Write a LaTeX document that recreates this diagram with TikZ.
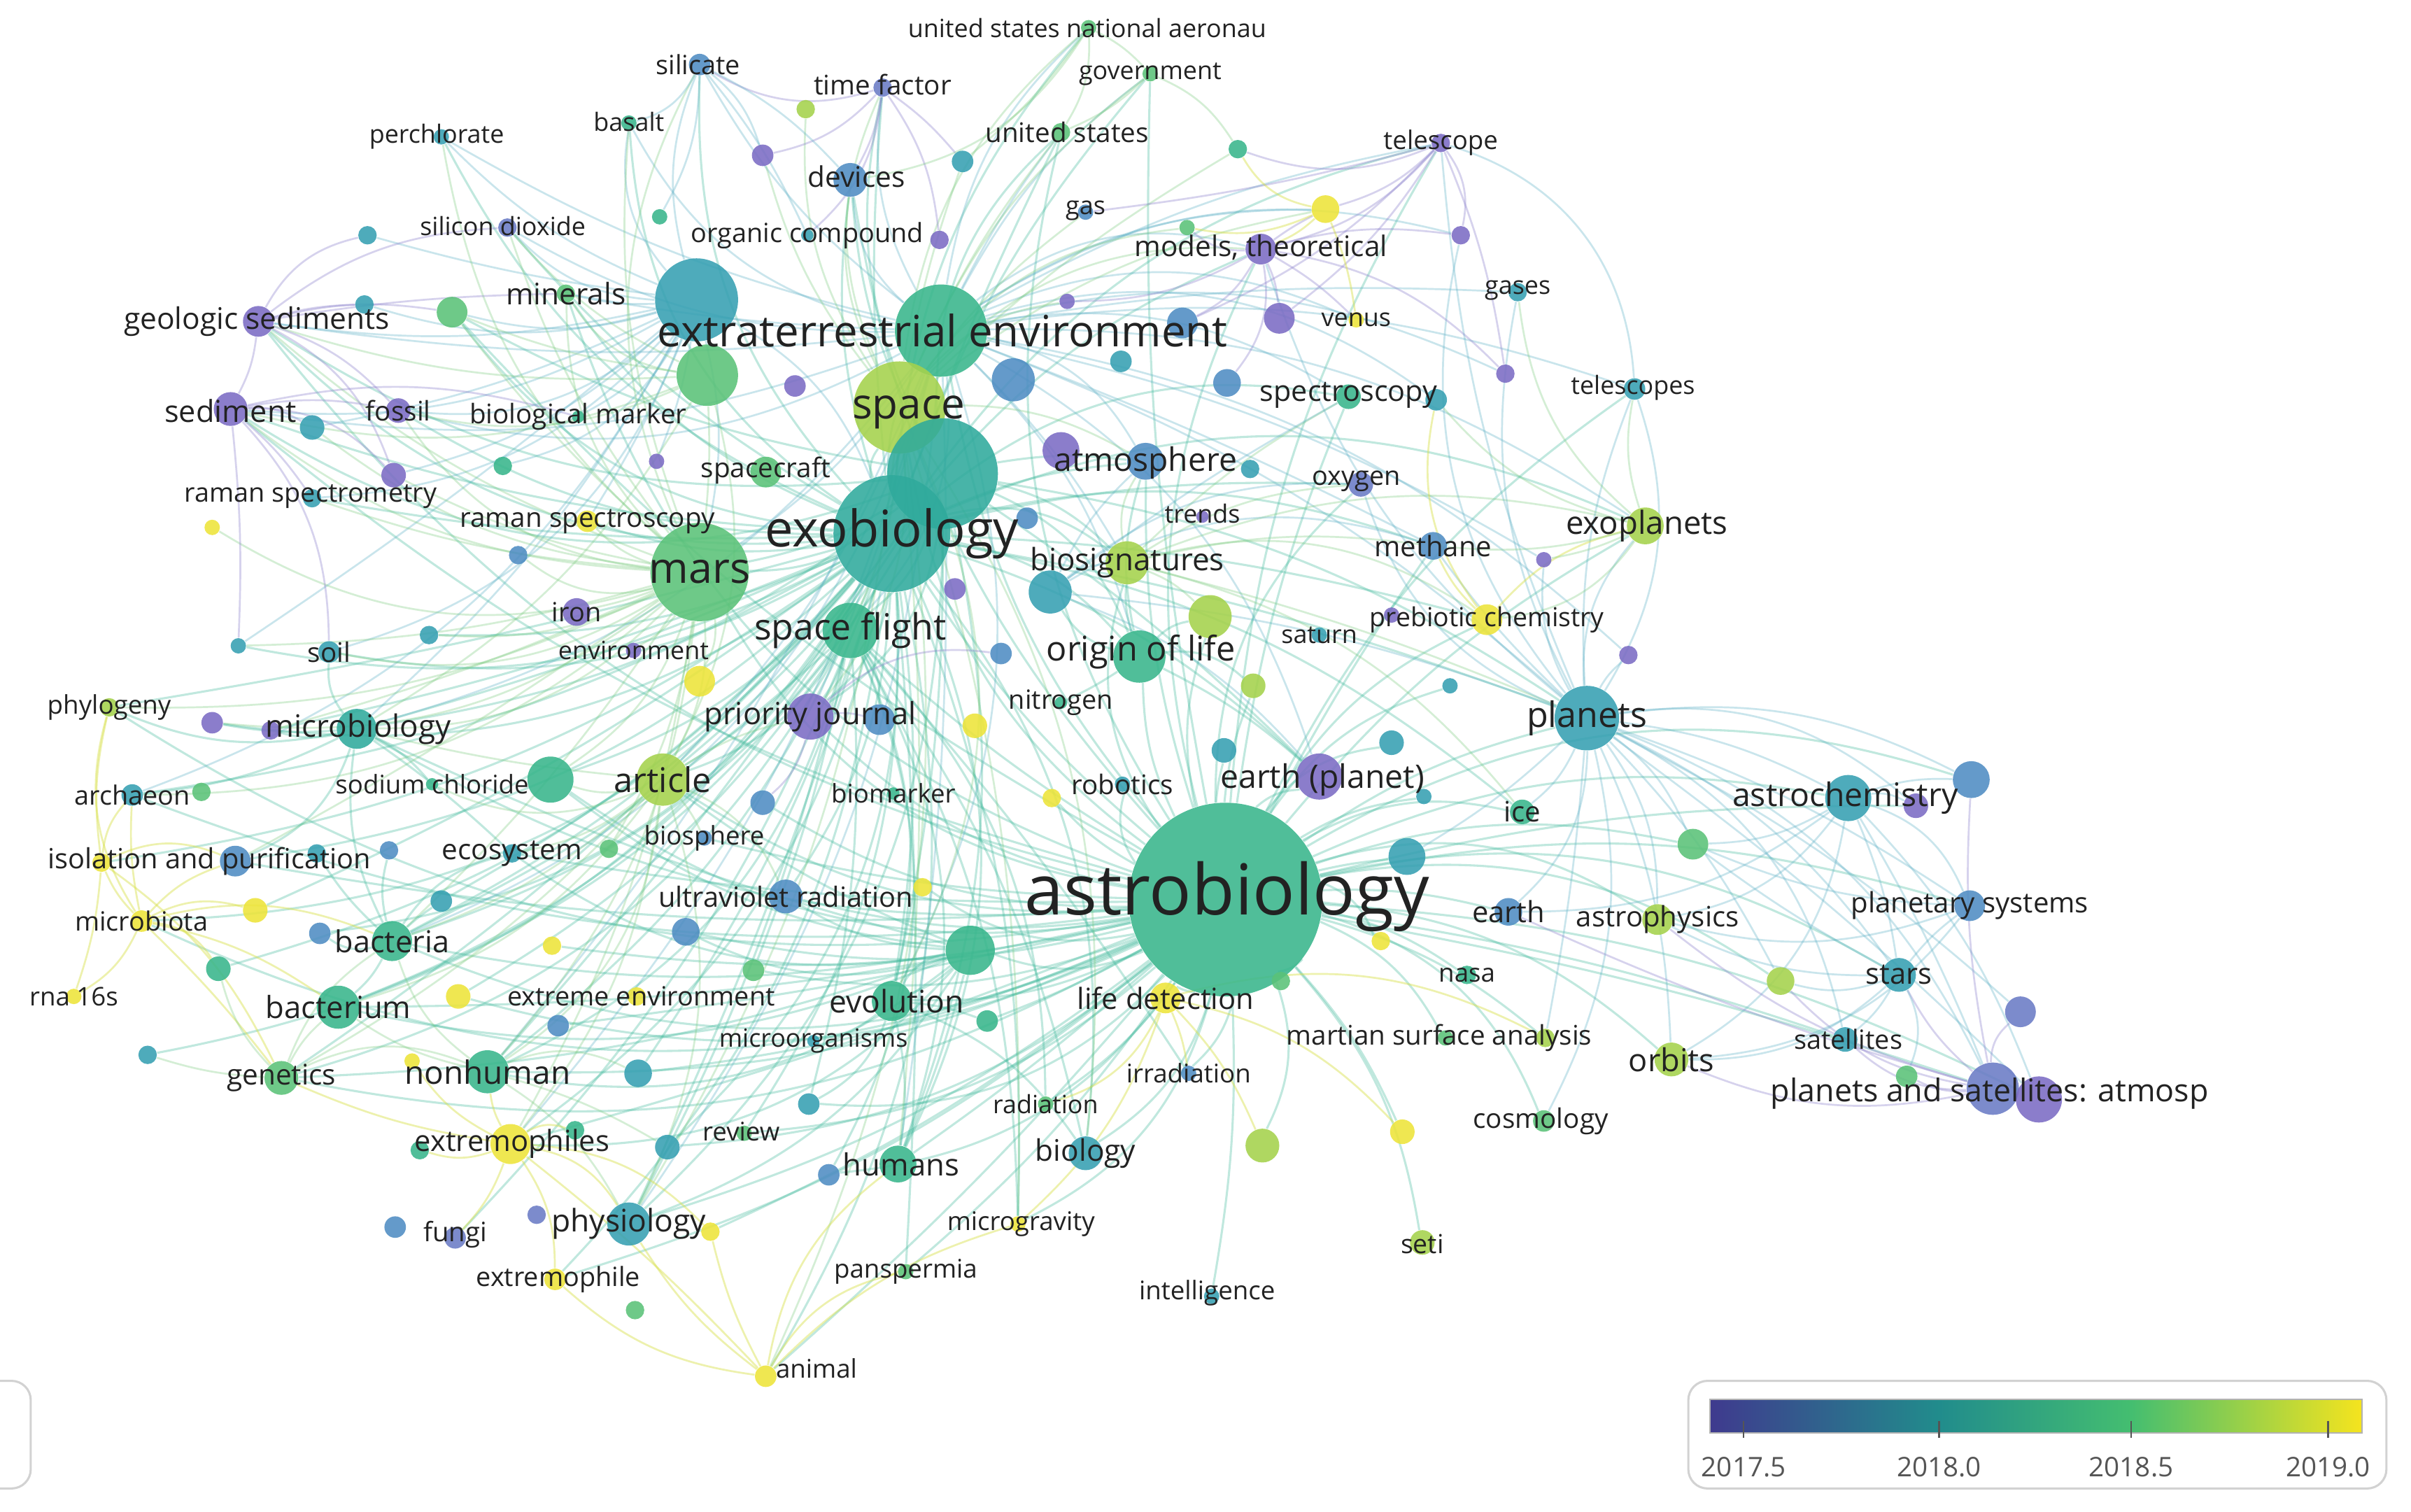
\documentclass[tikz,border=0pt]{standalone}
\usepackage{fontspec}
\setmainfont{Open Sans}
\pgfdeclarelayer{bg}
\pgfsetlayers{bg,main}
\definecolor{cP}{HTML}{7B6CC4}
\definecolor{cV}{HTML}{6A7BC6}
\definecolor{cB}{HTML}{4F8DC3}
\definecolor{cT}{HTML}{36A0B2}
\definecolor{cQ}{HTML}{2FAA9C}
\definecolor{cG}{HTML}{38B68C}
\definecolor{cN}{HTML}{5BC278}
\definecolor{cL}{HTML}{A5D24C}
\definecolor{cY}{HTML}{EDE43A}
\definecolor{eG}{HTML}{3DB89A}
\definecolor{eT}{HTML}{5AAFC4}
\definecolor{eN}{HTML}{7ACB7E}
\definecolor{eY}{HTML}{D8E04A}
\definecolor{eP}{HTML}{8A80CC}
\definecolor{txt}{HTML}{222222}
\definecolor{lg}{HTML}{555555}
\tikzset{
  bub/.style={circle, inner sep=0pt, draw=none, fill opacity=0.88},
  lab/.style={inner sep=0pt, text=txt},
  eg/.style={draw=eG, draw opacity=0.32, line width=0.8pt},
  et/.style={draw=eT, draw opacity=0.32, line width=0.7pt},
  en/.style={draw=eN, draw opacity=0.32, line width=0.7pt},
  ey/.style={draw=eY, draw opacity=0.45, line width=0.7pt},
  ep/.style={draw=eP, draw opacity=0.35, line width=0.7pt},
  legbox/.style={draw=gray!35, line width=0.8pt, rounded corners=0.25cm},
  tick/.style={draw=lg, line width=0.6pt},
  legtxt/.style={inner sep=0pt, text=lg, font=\fontsize{10}{10}\selectfont}
}
\newcommand\kwb[5]{\node[bub, fill=#5, minimum size=#4*0.04cm] (#1) at (#2,#3) {};}
\newcommand\kwl[5]{\node[lab, font=\fontsize{#4}{#4}\selectfont] (#1) at (#2,#3) {#5};}
\newcommand\kwh[3]{\foreach \tg [count=\ii] in {#3} {\pgfmathsetmacro\bb{mod(\ii*7,24)+3}\draw[#2] (#1) to[bend left=\bb] (\tg);}}
\begin{document}
\begin{tikzpicture}[x=0.02cm, y=-0.02cm]
\useasboundingbox (0,0) rectangle (1568,983);
% ---------------- bubbles ----------------
\kwb{usna}{708}{18}{5}{cN}
\kwb{gov}{748}{48}{5}{cN}
\kwb{sil}{455}{42}{7}{cB}
\kwb{tf}{574}{57}{6}{cV}
\kwb{bas}{409}{80}{5}{cG}
\kwb{per}{287}{89}{5}{cT}
\kwb{u1}{524}{71}{6}{cL}
\kwb{us}{690}{86}{6}{cN}
\kwb{tel}{937}{93}{6}{cP}
\kwb{u2}{496}{101}{7}{cP}
\kwb{u3}{626}{105}{7}{cT}
\kwb{u4}{805}{97}{6}{cG}
\kwb{dev}{553}{117}{11}{cB}
\kwb{u5}{429}{141}{5}{cG}
\kwb{sio}{330}{148}{6}{cV}
\kwb{u6}{239}{153}{6}{cT}
\kwb{oc}{525}{153}{4}{cT}
\kwb{u7}{611}{156}{6}{cP}
\kwb{gas}{706}{138}{5}{cB}
\kwb{u8}{862}{136}{9}{cY}
\kwb{u9}{772}{148}{5}{cN}
\kwb{mt}{820}{162}{10}{cP}
\kwb{u10}{950}{153}{6}{cP}
\kwb{u11}{694}{196}{5}{cP}
\kwb{u12}{294}{203}{10}{cN}
\kwb{min}{368}{191}{6}{cN}
\kwb{geo}{168}{209}{10}{cP}
\kwb{u13}{237}{198}{6}{cT}
\kwb{bt}{453}{195}{27}{cT}
\kwb{ee}{612}{215}{30}{cG}
\kwb{u14}{460}{244}{20}{cN}
\kwb{u15}{517}{251}{7}{cP}
\kwb{u16}{659}{247}{14}{cB}
\kwb{u17}{769}{210}{10}{cB}
\kwb{u18}{832}{207}{10}{cP}
\kwb{ven}{882}{208}{5}{cY}
\kwb{gases}{987}{190}{6}{cT}
\kwb{u19}{979}{243}{6}{cP}
\kwb{tels}{1063}{253}{7}{cT}
\kwb{u20}{729}{235}{7}{cT}
\kwb{u21}{798}{249}{9}{cB}
\kwb{spec}{877}{258}{8}{cG}
\kwb{u22}{934}{260}{7}{cT}
\kwb{space}{585}{265}{30}{cL}
\kwb{u23}{613}{308}{36}{cQ}
\kwb{sed}{150}{266}{11}{cP}
\kwb{fos}{259}{267}{8}{cP}
\kwb{u24}{203}{278}{8}{cT}
\kwb{bm}{376}{271}{4}{cG}
\kwb{u25}{256}{309}{8}{cP}
\kwb{u26}{327}{303}{6}{cG}
\kwb{u27}{427}{300}{5}{cP}
\kwb{scraft}{498}{307}{10}{cN}
\kwb{u28}{690}{293}{12}{cP}
\kwb{atm}{745}{300}{12}{cB}
\kwb{u29}{813}{305}{6}{cT}
\kwb{oxy}{885}{315}{8}{cV}
\kwb{rsm}{203}{324}{6}{cT}
\kwb{u30}{138}{343}{5}{cY}
\kwb{rsc}{382}{339}{7}{cY}
\kwb{u31}{337}{361}{6}{cB}
\kwb{tr}{782}{336}{4}{cP}
\kwb{exo}{580}{347}{38}{cQ}
\kwb{u32}{668}{337}{7}{cB}
\kwb{meth}{932}{355}{9}{cB}
\kwb{exop}{1070}{342}{12}{cL}
\kwb{u33}{1004}{364}{5}{cP}
\kwb{mars}{455}{372}{32}{cN}
\kwb{bios}{733}{366}{14}{cL}
\kwb{u34}{683}{385}{14}{cT}
\kwb{u35}{621}{383}{7}{cP}
\kwb{iron}{375}{398}{9}{cP}
\kwb{env}{412}{423}{5}{cP}
\kwb{sf}{553}{410}{18}{cG}
\kwb{u36}{787}{401}{14}{cL}
\kwb{sat}{858}{413}{5}{cT}
\kwb{u37}{905}{400}{5}{cP}
\kwb{pc}{967}{403}{10}{cY}
\kwb{u38}{1059}{426}{6}{cP}
\kwb{soil}{214}{424}{7}{cT}
\kwb{u39}{155}{420}{5}{cT}
\kwb{u40}{279}{413}{6}{cT}
\kwb{ool}{741}{427}{17}{cG}
\kwb{u41}{651}{425}{7}{cB}
\kwb{u42}{815}{446}{8}{cL}
\kwb{u43}{943}{446}{5}{cT}
\kwb{u44}{455}{443}{10}{cY}
\kwb{phy}{71}{460}{6}{cL}
\kwb{u45}{138}{470}{7}{cP}
\kwb{u46}{176}{475}{6}{cP}
\kwb{mb}{232}{474}{13}{cQ}
\kwb{pj}{527}{466}{15}{cP}
\kwb{u47}{572}{468}{10}{cB}
\kwb{u48}{634}{472}{8}{cY}
\kwb{nit}{690}{457}{4}{cG}
\kwb{pl}{1032}{467}{21}{cT}
\kwb{u49}{905}{483}{8}{cT}
\kwb{u50}{796}{488}{8}{cT}
\kwb{eap}{858}{505}{15}{cP}
\kwb{arc}{86}{517}{7}{cT}
\kwb{u51}{131}{515}{6}{cN}
\kwb{nacl}{281}{510}{4}{cG}
\kwb{u52}{358}{507}{15}{cG}
\kwb{art}{431}{507}{17}{cL}
\kwb{u53}{496}{522}{8}{cB}
\kwb{biom}{581}{516}{4}{cG}
\kwb{u54}{684}{519}{6}{cY}
\kwb{rob}{730}{510}{5}{cT}
\kwb{ice}{990}{528}{8}{cG}
\kwb{u55}{926}{518}{5}{cT}
\kwb{ach}{1202}{519}{15}{cT}
\kwb{u56}{1246}{524}{8}{cP}
\kwb{u57}{1282}{507}{12}{cB}
\kwb{u58}{1101}{549}{10}{cN}
\kwb{iap}{153}{560}{10}{cB}
\kwb{u59}{66}{561}{6}{cY}
\kwb{u60}{206}{555}{6}{cT}
\kwb{u61}{253}{553}{6}{cB}
\kwb{eco}{333}{555}{6}{cT}
\kwb{u62}{396}{552}{6}{cN}
\kwb{bsp}{458}{545}{5}{cB}
\kwb{ab}{797}{585}{63}{cG}
\kwb{u63}{915}{557}{12}{cT}
\kwb{earth}{981}{593}{9}{cB}
\kwb{aph}{1078}{598}{10}{cL}
\kwb{ps}{1281}{589}{10}{cB}
\kwb{u64}{600}{577}{6}{cY}
\kwb{uv}{511}{583}{11}{cB}
\kwb{u65}{446}{606}{9}{cB}
\kwb{mbt}{92}{599}{7}{cY}
\kwb{u66}{166}{592}{8}{cY}
\kwb{u67}{287}{586}{7}{cT}
\kwb{bac}{255}{612}{13}{cG}
\kwb{u68}{208}{607}{7}{cB}
\kwb{u69}{359}{615}{6}{cY}
\kwb{u70}{490}{631}{7}{cN}
\kwb{u71}{631}{618}{16}{cG}
\kwb{u72}{898}{612}{6}{cY}
\kwb{nasa}{954}{634}{6}{cG}
\kwb{u73}{1158}{638}{9}{cL}
\kwb{stars}{1235}{634}{11}{cT}
\kwb{u74}{1314}{658}{10}{cV}
\kwb{rna}{48}{648}{5}{cY}
\kwb{u75}{142}{630}{8}{cG}
\kwb{bact}{220}{655}{14}{cG}
\kwb{u76}{298}{648}{8}{cY}
\kwb{xenv}{414}{648}{6}{cY}
\kwb{u77}{363}{667}{7}{cB}
\kwb{evo}{580}{651}{13}{cG}
\kwb{u78}{642}{664}{7}{cG}
\kwb{ld}{758}{649}{10}{cY}
\kwb{u79}{833}{638}{6}{cN}
\kwb{mo}{529}{677}{4}{cT}
\kwb{msa}{1005}{675}{6}{cL}
\kwb{u80}{940}{675}{5}{cN}
\kwb{orb}{1087}{689}{11}{cL}
\kwb{sats}{1200}{676}{8}{cT}
\kwb{psa}{1296}{708}{17}{cV}
\kwb{u81}{1326}{715}{15}{cP}
\kwb{u82}{1240}{700}{7}{cN}
\kwb{u83}{96}{686}{6}{cT}
\kwb{gen}{183}{701}{11}{cN}
\kwb{u84}{268}{690}{5}{cY}
\kwb{nh}{317}{697}{14}{cG}
\kwb{u85}{415}{698}{9}{cT}
\kwb{irr}{773}{698}{5}{cB}
\kwb{rad}{680}{718}{5}{cN}
\kwb{u86}{526}{718}{7}{cT}
\kwb{rev}{484}{737}{5}{cN}
\kwb{u87}{434}{746}{8}{cT}
\kwb{u88}{821}{745}{11}{cL}
\kwb{u89}{912}{736}{8}{cY}
\kwb{cosm}{1004}{729}{7}{cN}
\kwb{xph}{332}{744}{13}{cY}
\kwb{u90}{273}{748}{6}{cG}
\kwb{u91}{374}{735}{6}{cG}
\kwb{bio}{706}{750}{11}{cT}
\kwb{hum}{584}{757}{12}{cG}
\kwb{u92}{539}{764}{7}{cB}
\kwb{phys}{409}{796}{14}{cT}
\kwb{u93}{462}{801}{6}{cY}
\kwb{u94}{349}{790}{6}{cV}
\kwb{fun}{296}{805}{7}{cV}
\kwb{u95}{257}{798}{7}{cB}
\kwb{mg}{662}{796}{5}{cY}
\kwb{seti}{925}{808}{8}{cL}
\kwb{pan}{589}{827}{5}{cN}
\kwb{xph1}{361}{832}{7}{cY}
\kwb{u96}{413}{852}{6}{cN}
\kwb{intel}{788}{843}{5}{cT}
\kwb{ani}{498}{895}{7}{cY}
% ---------------- edges ----------------
\begin{pgfonlayer}{bg}
\fill[white] (0,0) rectangle (1568,983);
\kwh{ab}{eg}{pl,ach,u57,u56,ps,stars,psa,u81,orb,aph,earth,u58,u73,sats,msa,u80,cosm,u89,seti,u88,intel,ld,bio,hum,rad,irr,mg,pan,evo,u71,u78,uv,art,mars,exo,ee,space,sf,ool,eap,bios,atm,pj,bac,bact,nh,gen,xph,phys,mb,mbt,iap,arc,phy,ani,xph1,rev,u86,u85,u70,u52,eco,sed,geo,min,u12,dev,us,gov,tel,mt,meth,exop,pc,oxy,spec,tels,ice,u63,nasa,u79,u72,u42,u36,u49,u50,u55,u43,rob,u54,u53,u64,bsp,u65,u76,u77,u69,u87,u92,u93}
\kwh{exo}{eg}{mars,ee,space,sf,art,pj,mb,bac,bact,geo,sed,fos,sil,tf,dev,per,bas,sio,min,u12,rsm,rsc,soil,phy,arc,iap,mbt,gen,nh,xph,phys,fun,xph1,hum,evo,uv,bio,pl,eap,ool,bios,atm,meth,exop,pc,mt,tel,us,gov,usna,spec,oxy,ice,ani,pan,mg,rev,u87,u85,u52,u45,u46,u40,u39,u68,u67,u75,u83,u66,u59}
\kwh{ee}{et}{mars,space,sf,geo,sed,fos,min,sil,tf,bas,per,sio,dev,us,gov,usna,mt,tel,u8,u10,gases,tels,spec,meth,pl,exop,atm,bios,ool,eap,pj,art,mb,bac,nh,phys,evo,hum,xph,u19,u22,u33,u38,ven}
\kwh{bt}{et}{geo,sed,fos,u24,u25,sio,u6,per,sil,bas,min,u12,rsm,rsc,mars,exo,soil,mb,u13,u26,u27,bm,arc,u39}
\kwh{u23}{eg}{mars,sf,pj,art,mb,bac,nh,dev,tf,us,atm,bios,ool,eap,pl,geo,sed,u12,hum,phys,evo}
\kwh{mars}{en}{geo,sed,fos,rsm,rsc,soil,iron,env,u44,u31,u25,u24,min,u12,bas,per,sil,sio,art,mb,bac,phy,arc,iap,xph,nh,u30,u39,u40,u45,u46,u62,u52}
\kwh{space}{en}{sf,dev,tf,us,gov,usna,u3,u2,u1,mt,gas,atm,pj,hum,phys,bio,evo,mg,ani,u9,u4,u8,u11}
\kwh{sf}{eg}{pj,u47,hum,phys,mg,rad,irr,bio,evo,nh,bac,bact,gen,u70,u76,art,u92,u86}
\kwh{u71}{eg}{bac,bact,nh,art,uv,u65,hum,evo,phys,xph,gen,u52,eco,mb}
\kwh{u14}{en}{geo,sed,min,u12,mb,art,mars,sio,fos}
\kwh{art}{en}{pj,u52,nacl,bsp,eco,uv,mb,bac,bact,nh,gen,xph,phys}
\kwh{bios}{en}{meth,exop,pc,spec,oxy,atm,pl,u36,ice}
\kwh{u34}{et}{atm,bios,meth,pl,eap,oxy,spec}
\kwh{pl}{et}{ach,u57,u56,ps,stars,psa,u81,orb,aph,sats,u73,u58,exop,meth,tels,gases,u10,tel,mt,earth,u63,ice,cosm,msa,u38,u33,oxy,u74}
\kwh{ach}{et}{u57,u56,ps,stars,u58,aph,psa,u81,earth,orb}
\kwh{psa}{ep}{stars,orb,u74,u57,u82,sats,earth,aph,u73}
\kwh{stars}{et}{sats,u73,u82,ps,aph,orb,u58}
\kwh{ps}{et}{u58,aph,orb}
\kwh{geo}{ep}{sed,sio,u6,u13,fos,u25,min,u12}
\kwh{sed}{ep}{fos,u24,u25,rsm,bm,soil,u39}
\kwh{tel}{ep}{u18,mt,u10,u19,u8,u4,gas,u17}
\kwh{mt}{ep}{u18,u17,u21,ven,u11,u9,u8,u10,u19}
\kwh{tf}{ep}{dev,u2,sil,u3,u7,oc}
\kwh{sil}{et}{dev,u2,bas,oc,u5}
\kwh{mbt}{ey}{u59,rna,phy,arc,iap,u66,gen,bact,bac,u75}
\kwh{u59}{ey}{phy,arc,iap,rna,gen}
\kwh{xph}{ey}{nh,xph1,phys,gen,u84,u93,ani,fun,u90,u91}
\kwh{ani}{ey}{phys,xph1,pan,u93,mg,hum}
\kwh{ld}{ey}{u88,u89,rad,irr,mg,msa}
\kwh{u8}{ey}{mt,u9,u4,ven}
\kwh{pc}{ey}{meth,exop,u22}
\kwh{gen}{en}{bact,bac,nh,u83,u75}
\kwh{nh}{en}{bact,bac,u85,u87,phys}
\kwh{bac}{eg}{bact,mb,u68,u60,u61,eco,u67}
\kwh{mb}{eg}{arc,phy,iap,u45,u46,soil,eco,nacl}
\kwh{pj}{ep}{u47,u53,u41}
\kwh{evo}{eg}{hum,bio,u71,u78,mo,u86}
\kwh{ool}{eg}{bios,u36,u42,eap,atm,u34,nit}
\kwh{exop}{en}{meth,u22,pc,u33,tels,gases}
\kwh{usna}{en}{gov,us,dev,u3}
\kwh{gov}{en}{us,u4}
\draw[et] (tel) to[bend left=35] (tels);
\draw[et] (tels) to[bend left=25] (pl);
\end{pgfonlayer}
% ---------------- labels ----------------
\kwl{Lusna}{707}{18}{9.3}{united states national aeronau}
\kwl{Lgov}{748}{48}{9.3}{government}
\kwl{Lsil}{454}{42}{9.8}{silicate}
\kwl{Ltf}{574}{55}{10}{time factor}
\kwl{Lbas}{409}{79}{9.3}{basalt}
\kwl{Lper}{284}{89}{9.3}{perchlorate}
\kwl{Lus}{694}{86}{10}{united states}
\kwl{Ltel}{937}{93}{9.5}{telescope}
\kwl{Ldev}{557}{115}{10.5}{devices}
\kwl{Lsio}{327}{147}{9.3}{silicon dioxide}
\kwl{Loc}{525}{153}{9.8}{organic compound}
\kwl{Lgas}{706}{137}{9.3}{gas}
\kwl{Lmt}{820}{161}{10.5}{models, theoretical}
\kwl{Lmin}{368}{191}{11}{minerals}
\kwl{Lgases}{987}{189}{9.3}{gases}
\kwl{Lgeo}{167}{209}{11}{geologic sediments}
\kwl{Lee}{613}{215}{16}{extraterrestrial environment}
\kwl{Lven}{882}{208}{9.3}{venus}
\kwl{Ltels}{1062}{252}{9.3}{telescopes}
\kwl{Lspec}{877}{257}{10.7}{spectroscopy}
\kwl{Lspace}{591}{268}{15.6}{space}
\kwl{Lsed}{150}{267}{11.2}{sediment}
\kwl{Lfos}{259}{267}{10}{fossil}
\kwl{Lbm}{376}{271}{10}{biological marker}
\kwl{Lscraft}{498}{306}{10}{spacecraft}
\kwl{Latm}{745}{301}{12}{atmosphere}
\kwl{Loxy}{882}{313}{9.8}{oxygen}
\kwl{Lrsm}{202}{323}{9.8}{raman spectrometry}
\kwl{Lrsc}{382}{339}{10}{raman spectroscopy}
\kwl{Ltr}{782}{334}{9.3}{trends}
\kwl{Lexo}{580}{347}{18.7}{exobiology}
\kwl{Lmeth}{932}{355}{10.4}{methane}
\kwl{Lexop}{1071}{342}{11.8}{exoplanets}
\kwl{Lmars}{455}{372}{15.8}{mars}
\kwl{Lbios}{733}{366}{11.4}{biosignatures}
\kwl{Liron}{375}{398}{9.8}{iron}
\kwl{Lenv}{412}{423}{9.3}{environment}
\kwl{Lsf}{553}{410}{13.4}{space flight}
\kwl{Lsat}{858}{413}{9.3}{saturn}
\kwl{Lpc}{967}{403}{9.7}{prebiotic chemistry}
\kwl{Lsoil}{214}{424}{10}{soil}
\kwl{Lool}{742}{424}{12.6}{origin of life}
\kwl{Lphy}{71}{460}{9.5}{phylogeny}
\kwl{Lmb}{233}{474}{11.4}{microbiology}
\kwl{Lpj}{527}{466}{11.3}{priority journal}
\kwl{Lnit}{690}{457}{9.8}{nitrogen}
\kwl{Lpl}{1032}{467}{13}{planets}
\kwl{Leap}{860}{507}{12}{earth (planet)}
\kwl{Larc}{86}{517}{9.8}{archaeon}
\kwl{Lnacl}{281}{510}{9.5}{sodium chloride}
\kwl{Lart}{431}{507}{12.6}{article}
\kwl{Lbiom}{581}{516}{9.5}{biomarker}
\kwl{Lrob}{730}{510}{10}{robotics}
\kwl{Lice}{990}{528}{10.4}{ice}
\kwl{Lach}{1200}{519}{12}{astrochemistry}
\kwl{Liap}{136}{560}{10.3}{isolation and purification}
\kwl{Leco}{333}{555}{10.5}{ecosystem}
\kwl{Lbsp}{458}{545}{9.5}{biosphere}
\kwl{Lab}{798}{583}{26}{astrobiology}
\kwl{Learth}{981}{593}{10.8}{earth}
\kwl{Laph}{1078}{598}{10.4}{astrophysics}
\kwl{Lps}{1281}{589}{10.4}{planetary systems}
\kwl{Luv}{511}{583}{10.3}{ultraviolet radiation}
\kwl{Lmbt}{92}{599}{9.8}{microbiota}
\kwl{Lbac}{255}{612}{11.2}{bacteria}
\kwl{Lnasa}{954}{634}{9.5}{nasa}
\kwl{Lstars}{1235}{634}{10.8}{stars}
\kwl{Lrna}{48}{648}{9.5}{rna 16s}
\kwl{Lbact}{220}{655}{11.3}{bacterium}
\kwl{Lxenv}{417}{648}{9.8}{extreme environment}
\kwl{Levo}{583}{651}{11.5}{evolution}
\kwl{Lld}{758}{649}{10.8}{life detection}
\kwl{Lmo}{529}{677}{9.3}{microorganisms}
\kwl{Lmsa}{936}{675}{10}{martian surface analysis}
\kwl{Lorb}{1087}{689}{11.7}{orbits}
\kwl{Lsats}{1202}{676}{9.8}{satellites}
\kwl{Lpsa}{1294}{711}{11.6}{planets and satellites: atmosp}
\kwl{Lgen}{183}{701}{10.5}{genetics}
\kwl{Lnh}{317}{697}{11.9}{nonhuman}
\kwl{Lirr}{773}{698}{9.5}{irradiation}
\kwl{Lrad}{680}{718}{9.3}{radiation}
\kwl{Lrev}{482}{736}{9.5}{review}
\kwl{Lcosm}{1002}{729}{10}{cosmology}
\kwl{Lxph}{333}{744}{10.8}{extremophiles}
\kwl{Lbio}{706}{750}{11}{biology}
\kwl{Lhum}{586}{757}{11.3}{humans}
\kwl{Lphys}{409}{796}{11.5}{physiology}
\kwl{Lfun}{296}{803}{9.9}{fungi}
\kwl{Lmg}{664}{796}{9.5}{microgravity}
\kwl{Lseti}{925}{809}{9.7}{seti}
\kwl{Lpan}{589}{827}{9.5}{panspermia}
\kwl{Lxph1}{363}{832}{9.8}{extremophile}
\kwl{Lintel}{785}{841}{9.5}{intelligence}
\kwl{Lani}{531}{890}{9.5}{animal}
% ---------------- legend ----------------
\draw[legbox] (-60,898) rectangle (20,968);
\draw[legbox] (1098,898) rectangle (1552,968);
\shade[left color={rgb,255:red,63;green,58;blue,142}, right color={rgb,255:red,33;green,140;blue,140}] (1112,910) rectangle (1261,932);
\shade[left color={rgb,255:red,33;green,140;blue,140}, right color={rgb,255:red,68;green,190;blue,112}] (1261,910) rectangle (1386,932);
\shade[left color={rgb,255:red,68;green,190;blue,112}, right color={rgb,255:red,245;green,228;blue,30}] (1386,910) rectangle (1536,932);
\draw[draw=gray!60, line width=0.5pt] (1112,910) rectangle (1536,932);
\foreach \xx/\yr in {1134/2017.5,1261/2018.0,1386/2018.5,1514/2019.0} {
  \draw[tick] (\xx,924) -- (\xx,935);
  \node[legtxt] (T\yr) at (\xx,954) {\yr};
}
\end{tikzpicture}
\end{document}
